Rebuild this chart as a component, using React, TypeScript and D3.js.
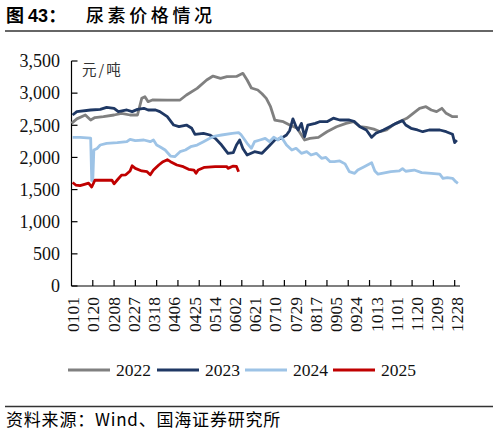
import React from "react";
import * as d3 from "d3";

const dateLabels = ["0101","0120","0208","0227","0318","0406","0425","0514","0602","0621","0710","0729","0817","0905","0924","1013","1101","1120","1209","1228"];
const yTicks = [0, 500, 1000, 1500, 2000, 2500, 3000, 3500];
const seriesNames = ["2022", "2023", "2024", "2025"];
const seriesColors = ["#808080", "#1f3864", "#9dc3e6", "#c00000"];

const days2022 = [0,5,13,18,22,30,40,47,55,62,66,69,72,76,90,102,108,118,127,133,140,146,155,161,165,169,175,179,183,187,191,199,205,212,216,219,224,232,240,249,258,265,271,277,284,290,296,302,308,315,321,327,333,338,343,348,352,358,363];
const values2022 = [2530,2600,2660,2582,2620,2634,2660,2686,2660,2660,2919,2945,2867,2893,2890,2893,2971,3075,3204,3266,3230,3256,3260,3308,3204,3080,3049,2990,2919,2789,2582,2556,2504,2453,2349,2271,2297,2313,2400,2478,2530,2556,2478,2468,2440,2400,2427,2504,2556,2608,2686,2764,2789,2738,2712,2764,2686,2634,2634];

const days2023 = [1,5,18,27,33,40,44,52,57,62,68,72,79,83,90,96,101,108,113,116,124,130,135,141,147,152,155,158,161,165,172,179,185,191,197,202,205,208,211,213,216,219,222,229,233,240,246,252,261,266,271,277,282,286,293,299,305,311,314,319,325,330,336,346,352,358,360,362];
const values2023 = [2660,2712,2738,2748,2779,2764,2712,2738,2712,2748,2764,2738,2738,2712,2634,2504,2478,2504,2453,2360,2375,2349,2297,2193,2064,2075,2193,2271,2140,2038,2089,2064,2167,2271,2297,2349,2420,2600,2478,2427,2530,2322,2504,2530,2556,2556,2610,2582,2582,2556,2478,2427,2313,2375,2427,2478,2530,2572,2504,2453,2427,2400,2427,2427,2400,2360,2230,2271];

const days2024 = [1,8,18,19,20,21,24,27,33,43,52,55,60,68,74,77,80,83,88,93,97,102,107,112,118,124,130,135,141,151,157,159,165,169,172,177,182,186,190,194,197,202,207,211,216,221,225,230,235,239,243,247,252,257,261,266,269,275,282,285,288,294,300,308,311,314,322,329,338,346,349,353,358,361,363];
const values2024 = [2313,2313,2300,1640,1640,2115,2140,2193,2220,2230,2245,2282,2260,2271,2245,2270,2193,2167,2115,2022,2012,2089,2115,2167,2193,2245,2297,2333,2349,2375,2385,2360,2220,2142,2245,2271,2297,2245,2313,2271,2322,2193,2115,2142,2064,2089,2038,2064,1986,2000,1934,1934,1945,1900,1778,1753,1804,1856,1918,1790,1740,1760,1778,1790,1825,1785,1804,1763,1753,1740,1675,1685,1675,1622,1597];

const days2025 = [1,4,8,13,16,19,22,27,38,40,43,47,51,55,57,60,66,71,74,77,82,86,90,93,99,105,110,115,117,119,125,135,146,147,152,155,157];
const values2025 = [1610,1571,1560,1585,1600,1540,1645,1645,1645,1590,1649,1726,1730,1790,1870,1830,1790,1778,1730,1804,1882,1934,1965,1934,1882,1856,1815,1804,1753,1804,1846,1856,1856,1830,1866,1860,1778];

const seriesDays = [days2022, days2023, days2024, days2025];
const seriesValues = [values2022, values2023, values2024, values2025];

const W = 498;
const H = 434;
const left = 71.5;
const right = 460;
const top = 61;
const bottom = 286;

export default function App() {
  const x = d3.scaleLinear().domain([0, 365]).range([left, right]);
  const y = d3.scaleLinear().domain([0, 3500]).range([bottom, top]);
  const line = d3
    .line<[number, number]>()
    .x((d) => x(d[0]))
    .y((d) => y(d[1]));

  const serif = "'Liberation Serif', 'Times New Roman', serif";
  const cjk = "'Noto Sans CJK SC', sans-serif";
  const tickIdx = d3.range(1, 19).map((k) => k * 20);
  const legendX = [68, 157, 245, 333];

  return (
    <div style={{ position: "absolute", left: 0, top: 0 }}>
      <svg width={W} height={H} viewBox={`0 0 ${W} ${H}`} style={{ display: "block", background: "#fff" }}>
        {/* Title */}
        <text x={6} y={22} fontFamily={cjk} fontSize={18} fontWeight={700} fill="#000">
          图 <tspan fontFamily="'Liberation Sans', Arial, sans-serif" fontWeight={700}>43</tspan>：
        </text>
        <text x={86} y={22} fontFamily={cjk} fontSize={18} fontWeight={500} fill="#000" textLength={126} lengthAdjust="spacing">
          尿素价格情况
        </text>
        <line x1={5} x2={493} y1={31} y2={31} stroke="#333" strokeWidth={1.3} />

        {/* Y axis */}
        <line x1={left} x2={left} y1={top} y2={bottom} stroke="#000" strokeWidth={1.2} />
        {yTicks.map((t) => (
          <g key={t}>
            <line x1={left} x2={left + 6} y1={y(t)} y2={y(t)} stroke="#000" strokeWidth={1.2} />
            <text x={60} y={y(t)} dy="0.35em" textAnchor="end" fontFamily={serif} fontSize={18} fill="#111">
              {d3.format(",")(t)}
            </text>
          </g>
        ))}
        <text x={82} y={70} dy="0.35em" fontFamily={cjk} fontSize={14.5} fill="#333" letterSpacing={2}>
          元/吨
        </text>

        {/* X axis */}
        <line x1={left} x2={right} y1={bottom} y2={bottom} stroke="#000" strokeWidth={1.2} />
        {tickIdx.map((t) => (
          <line key={t} x1={x(t)} x2={x(t)} y1={bottom} y2={bottom - 6} stroke="#000" strokeWidth={1.2} />
        ))}
        {dateLabels.map((lab, k) => (
          <text
            key={lab}
            transform={`translate(${x(k * 19 + 1.5)},${297}) rotate(-90)`}
            dy="0.35em"
            textAnchor="end"
            fontFamily={serif}
            fontSize={17.5}
            fill="#111"
          >
            {lab}
          </text>
        ))}

        {/* Series */}
        {seriesNames.map((name, s) => {
          const pts = seriesDays[s].map((d, i) => [d, seriesValues[s][i]] as [number, number]);
          return (
            <path
              key={name}
              d={line(pts) || ""}
              fill="none"
              stroke={seriesColors[s]}
              strokeWidth={2.8}
              strokeLinejoin="round"
            />
          );
        })}

        {/* Legend */}
        {seriesNames.map((name, s) => (
          <g key={name}>
            <line x1={legendX[s]} x2={legendX[s] + 42} y1={370} y2={370} stroke={seriesColors[s]} strokeWidth={3} />
            <text x={legendX[s] + 48} y={370} dy="0.35em" fontFamily={serif} fontSize={17.5} fill="#111">
              {name}
            </text>
          </g>
        ))}

        {/* Footer */}
        <line x1={5} x2={493} y1={406.5} y2={406.5} stroke="#333" strokeWidth={1.3} />
        <text x={6} y={426} fontFamily={cjk} fontSize={17} fill="#000" letterSpacing={0.8}>
          资料来源：Wind、国海证券研究所
        </text>
      </svg>
    </div>
  );
}
